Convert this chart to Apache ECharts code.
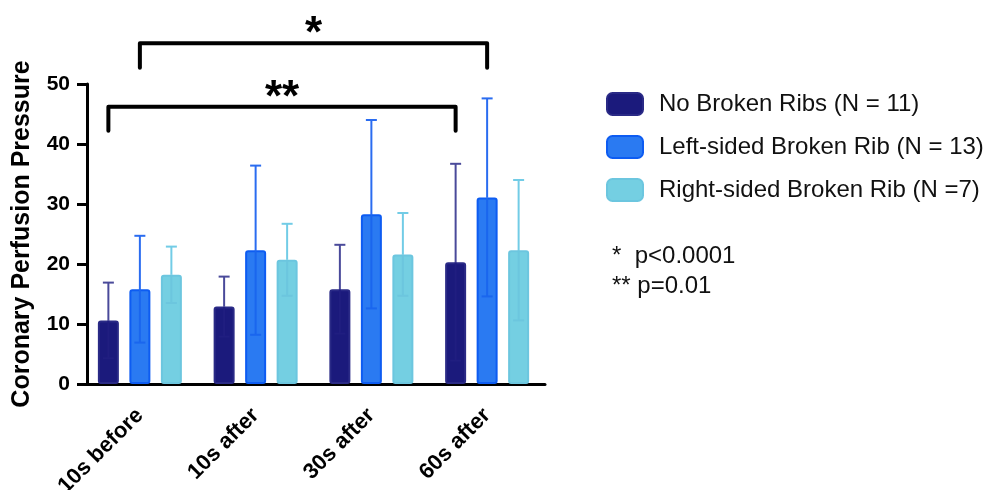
<!DOCTYPE html>
<html>
<head>
<meta charset="utf-8">
<script src="https://cdn.jsdelivr.net/npm/echarts@6/dist/echarts.min.js"></script>
<style>
  html, body { margin: 0; padding: 0; background: #fff; }
  #chart { width: 987px; height: 490px; }
</style>
</head>
<body>
<div id="chart"></div>
<script>
// ---- data ----
const categories = ['10s before', '10s after', '30s after', '60s after'];
const seriesNames = ['No Broken Ribs (N = 11)', 'Left-sided Broken Rib (N = 13)', 'Right-sided Broken Rib (N =7)'];
const noBrokenMean = [10.6, 12.9, 15.8, 20.3];
const noBrokenSD   = [6.3, 5.0, 7.4, 16.4];
const leftMean     = [15.8, 22.3, 28.3, 31.1];
const leftSD       = [8.9, 14.1, 15.7, 16.5];
const rightMean    = [18.2, 20.7, 21.6, 22.3];
const rightSD      = [4.7, 6.0, 6.9, 11.7];
const yTicks = [0, 10, 20, 30, 40, 50];

// significance brackets (category index, bar index within group, y values)
const bracketText     = ['*', '**'];
const bracketStartCat = [0, 0];
const bracketStartBar = [1, 0];
const bracketEndCat   = [3, 3];
const bracketEndBar   = [1, 0];
const bracketTop      = [56.8, 46.2];
const bracketLeg      = [52.7, 42.2];

const footnotes = ['*  p<0.0001', '** p=0.01'];

// ---- styles ----
const FONT = '"Liberation Sans", Arial, Helvetica, sans-serif';
const BAR_W = 21;
const BAR_GAP = 10.5;
const CAP = 11;
const fills   = ['#1b1a7c', '#2a7af2', '#74cfe2'];
const borders = ['#2a2a86', '#0d5cf2', '#6cc6df'];
const errUp   = ['#4a4a9a', '#2a6cf0', '#72cce6'];
const errLow  = ['#201e80', '#1a66ee', '#6cc6de'];

const means = [noBrokenMean, leftMean, rightMean];
const sds = [noBrokenSD, leftSD, rightSD];

const chart = echarts.init(document.getElementById('chart'), null, { renderer: 'canvas' });

function barOffset(i) { return (i - 1) * (BAR_W + BAR_GAP); }

function errorRender(si) {
  return function (params, api) {
    const ci = api.value(0), m = api.value(1), sd = api.value(2);
    const base = api.coord([ci, m]);
    const top = api.coord([ci, m + sd]);
    const bot = api.coord([ci, m - sd]);
    const x = base[0] + barOffset(si);
    return {
      type: 'group',
      children: [
        { type: 'line', shape: { x1: x, y1: bot[1], x2: x, y2: base[1] },
          style: { stroke: errLow[si], lineWidth: 2 } },
        { type: 'line', shape: { x1: x - CAP / 2, y1: bot[1], x2: x + CAP / 2, y2: bot[1] },
          style: { stroke: errLow[si], lineWidth: 2 } },
        { type: 'line', shape: { x1: x, y1: base[1], x2: x, y2: top[1] },
          style: { stroke: errUp[si], lineWidth: 2 } },
        { type: 'line', shape: { x1: x - CAP / 2, y1: top[1], x2: x + CAP / 2, y2: top[1] },
          style: { stroke: errUp[si], lineWidth: 2 } }
      ]
    };
  };
}

function bracketRender(params, api) {
  const k = params.dataIndex;
  const p1 = api.coord([bracketStartCat[k], bracketTop[k]]);
  const p2 = api.coord([bracketEndCat[k], bracketTop[k]]);
  const leg = api.coord([bracketStartCat[k], bracketLeg[k]]);
  const x1 = p1[0] + barOffset(bracketStartBar[k]);
  const x2 = p2[0] + barOffset(bracketEndBar[k]);
  return {
    type: 'group',
    children: [
      { type: 'polyline',
        shape: { points: [[x1, leg[1]], [x1, p1[1]], [x2, p1[1]], [x2, leg[1]]] },
        style: { stroke: '#000', lineWidth: 4, fill: null, lineCap: 'round', lineJoin: 'round' } },
      { type: 'text',
        style: { text: bracketText[k], x: (x1 + x2) / 2, y: p1[1] - 8,
                 align: 'center', verticalAlign: 'middle',
                 font: 'bold 44px ' + FONT, fill: '#000' } }
    ]
  };
}

const series = [];
for (let s = 0; s < 3; s++) {
  series.push({
    name: seriesNames[s],
    type: 'bar',
    data: means[s],
    barWidth: BAR_W,
    barGap: (BAR_GAP / BAR_W * 100) + '%',
    itemStyle: { color: fills[s], borderColor: borders[s], borderWidth: 2, borderRadius: 2 },
    z: 2
  });
}
for (let s = 0; s < 3; s++) {
  series.push({
    type: 'custom',
    name: 'err' + s,
    renderItem: errorRender(s),
    data: categories.map((c, i) => [i, means[s][i], sds[s][i]]),
    encode: { x: 0, y: 1 },
    z: 3,
    silent: true
  });
}
series.push({
  type: 'custom',
  name: 'brackets',
  renderItem: bracketRender,
  data: bracketText.map((t, k) => [bracketStartCat[k], bracketTop[k]]),
  encode: { x: 0, y: 1 },
  clip: false,
  z: 4,
  silent: true
});

const option = {
  animation: false,
  backgroundColor: '#fff',
  grid: { left: 82, width: 463, top: 84, bottom: 106, containLabel: false, outerBoundsMode: 'none' },
  legend: {
    data: seriesNames,
    orient: 'vertical',
    left: 606,
    top: 92,
    padding: 0,
    itemWidth: 36,
    itemHeight: 22,
    itemGap: 19,
    textStyle: { fontFamily: FONT, fontSize: 24, color: '#111', padding: [0, 0, 0, 11] },
    selectedMode: false
  },
  xAxis: {
    type: 'category',
    data: categories,
    axisLine: { lineStyle: { color: '#000', width: 3 } },
    axisTick: { alignWithLabel: true, length: 10, lineStyle: { color: '#000', width: 3 } },
    axisLabel: { rotate: 45, margin: 28, fontFamily: FONT, fontSize: 22, fontWeight: 'bold', color: '#000' }
  },
  yAxis: {
    type: 'value',
    min: yTicks[0],
    max: yTicks[yTicks.length - 1],
    interval: yTicks[1] - yTicks[0],
    offset: -5,
    name: 'Coronary Perfusion Pressure',
    nameLocation: 'middle',
    nameGap: 52,
    nameTextStyle: { fontFamily: FONT, fontSize: 25, fontWeight: 'bold', color: '#000' },
    axisLine: { show: true, lineStyle: { color: '#000', width: 3 } },
    axisTick: { show: true, length: 10, lineStyle: { color: '#000', width: 3 } },
    axisLabel: { margin: 17, fontFamily: FONT, fontSize: 21, fontWeight: 'bold', color: '#000' },
    splitLine: { show: false }
  },
  graphic: footnotes.map((t, i) => ({
    type: 'text',
    left: 612,
    top: 244 + i * 30,
    style: { text: t, font: '24px ' + FONT, fill: '#111' }
  })),
  series: series
};
chart.setOption(option);
</script>
</body>
</html>
